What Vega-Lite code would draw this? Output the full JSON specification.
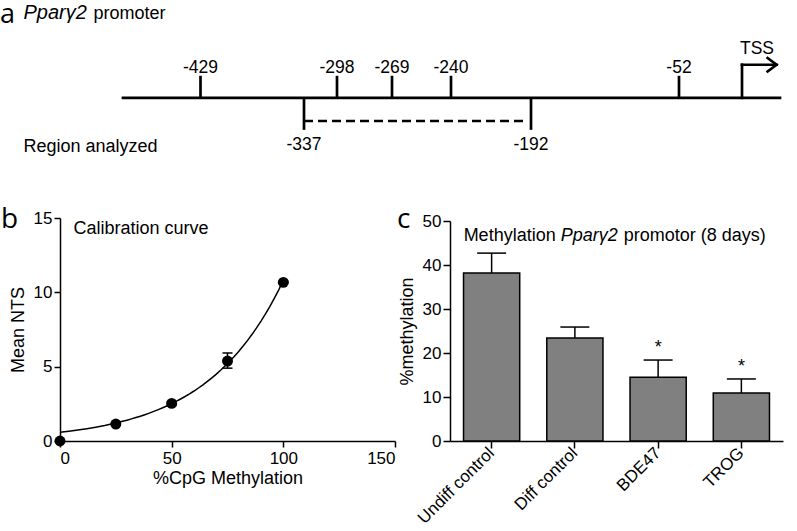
{
  "$schema": "https://vega.github.io/schema/vega-lite/v6.json",
  "padding": 0,
  "background": "white",
  "spacing": 50,
  "config": {
    "view": {"stroke": null},
    "font": "Liberation Sans",
    "axis": {"domainColor": "black", "domainWidth": 1.5, "tickColor": "black", "tickWidth": 1.5, "grid": false, "labelFont": "Liberation Sans", "labelFontSize": 17, "labelColor": "black", "titleFont": "Liberation Sans", "titleFontSize": 18, "titleFontWeight": "normal", "titleColor": "black"},
    "title": {"font": "Open Sans", "fontSize": 28, "fontWeight": "normal", "color": "black", "anchor": "start", "frame": "bounds", "baseline": "alphabetic"},
    "text": {"font": "Liberation Sans", "fontSize": 18, "color": "black"}
  },
  "datasets": {
    "segments": [
      {"x": -480, "x2": 33, "y": 0, "y2": 0},
      {"x": 0, "x2": 0, "y": 0, "y2": 1.5},
      {"x": 0, "x2": 30, "y": 1.5, "y2": 1.5}
    ],
    "sites": [
      {"pos": -429, "base": 0, "level": 1, "label": "-429", "labelLevel": 1.14},
      {"pos": -298, "base": 0, "level": 1, "label": "-298", "labelLevel": 1.14},
      {"pos": -269, "base": 0, "level": 1, "label": "-269", "labelLevel": 1.14},
      {"pos": -240, "base": 0, "level": 1, "label": "-240", "labelLevel": 1.14},
      {"pos": -52, "base": 0, "level": 1, "label": "-52", "labelLevel": 1.14},
      {"pos": -337, "base": 0, "level": -1.45, "label": "-337", "labelLevel": -2.36},
      {"pos": -192, "base": 0, "level": -1.45, "label": "-192", "labelLevel": -2.36}
    ],
    "region": [{"from": -337, "to": -195, "level": -1.05}],
    "calib": [
      {"pct": 0, "nts": 0, "lo": 0, "hi": 0},
      {"pct": 25, "nts": 1.14, "lo": 1.06, "hi": 1.22},
      {"pct": 50, "nts": 2.53, "lo": 2.43, "hi": 2.63},
      {"pct": 75, "nts": 5.38, "lo": 4.9, "hi": 5.92},
      {"pct": 100, "nts": 10.67, "lo": 10.6, "hi": 10.74}
    ],
    "methyl": [
      {"group": "Undiff control", "mean": 38.2, "hi": 42.7, "sig": ""},
      {"group": "Diff control", "mean": 23.4, "hi": 25.9, "sig": ""},
      {"group": "BDE47", "mean": 14.5, "hi": 18.4, "sig": "*"},
      {"group": "TROG", "mean": 10.9, "hi": 14.1, "sig": "*"}
    ]
  },
  "vconcat": [
    {
      "width": 737,
      "height": 150,
      "layer": [
        {
          "data": {"name": "segments"},
          "mark": {"type": "rule", "strokeWidth": 2.7, "color": "black", "strokeCap": "square"},
          "encoding": {
            "x": {"field": "x", "type": "quantitative", "axis": null, "scale": {"domain": [-690, -480, -429, -337, -298, -269, -240, -192, -52, 0, 33], "range": [-60, 63, 140.5, 244, 277, 332, 391, 471, 619, 682, 720], "nice": false, "zero": false}},
            "x2": {"field": "x2"},
            "y": {"field": "y", "type": "quantitative", "axis": null, "scale": {"domain": [-2.5, 4.3], "nice": false, "zero": false}},
            "y2": {"field": "y2"}
          }
        },
        {
          "data": {"name": "sites"},
          "mark": {"type": "rule", "strokeWidth": 2.7, "color": "black"},
          "encoding": {
            "x": {"field": "pos", "type": "quantitative"},
            "y": {"field": "base", "type": "quantitative"},
            "y2": {"field": "level"}
          }
        },
        {
          "data": {"name": "region"},
          "mark": {"type": "rule", "strokeWidth": 2.7, "color": "black", "strokeDash": [9, 5]},
          "encoding": {
            "x": {"field": "from", "type": "quantitative"},
            "x2": {"field": "to"},
            "y": {"field": "level", "type": "quantitative"}
          }
        },
        {
          "data": {"name": "sites"},
          "mark": {"type": "text", "align": "center", "baseline": "alphabetic", "fontSize": 17.5},
          "encoding": {
            "x": {"field": "pos", "type": "quantitative"},
            "y": {"field": "labelLevel", "type": "quantitative"},
            "text": {"field": "label"}
          }
        },
        {
          "data": {"values": [{}]},
          "mark": {"type": "point", "shape": "M-1.33,-1L0,0L-1.33,1", "size": 225, "filled": false, "stroke": "black", "strokeWidth": 2.7, "opacity": 1},
          "encoding": {"x": {"datum": 30, "type": "quantitative"}, "y": {"datum": 1.5, "type": "quantitative"}}
        },
        {
          "data": {"values": [{}]},
          "mark": {"type": "text", "align": "center", "baseline": "alphabetic", "fontSize": 17.5, "text": "TSS"},
          "encoding": {"x": {"datum": 13, "type": "quantitative"}, "y": {"datum": 2.01, "type": "quantitative"}}
        },
        {
          "data": {"values": [{}]},
          "mark": {"type": "text", "align": "left", "baseline": "alphabetic", "fontSize": 18, "text": "Region analyzed"},
          "encoding": {"x": {"datum": -650, "type": "quantitative"}, "y": {"datum": -2.45, "type": "quantitative"}}
        },
        {
          "data": {"values": [{}]},
          "mark": {"type": "text", "align": "left", "baseline": "alphabetic", "fontSize": 20, "fontStyle": "italic", "text": "Pparγ2"},
          "encoding": {"x": {"datum": -650, "type": "quantitative"}, "y": {"datum": 3.59, "type": "quantitative"}}
        },
        {
          "data": {"values": [{}]},
          "mark": {"type": "text", "align": "left", "baseline": "alphabetic", "fontSize": 18, "dx": 70, "text": "promoter"},
          "encoding": {"x": {"datum": -650, "type": "quantitative"}, "y": {"datum": 3.59, "type": "quantitative"}}
        },
        {
          "data": {"values": [{}]},
          "mark": {"type": "text", "align": "left", "baseline": "alphabetic", "font": "Open Sans", "fontSize": 27, "text": "a"},
          "encoding": {"x": {"datum": -690, "type": "quantitative"}, "y": {"datum": 3.4, "type": "quantitative"}}
        }
      ]
    },
    {
      "spacing": 1,
      "hconcat": [
        {
          "width": 335,
          "height": 223,
          "title": {"text": "b", "dx": -8, "offset": -25},
          "data": {"name": "calib"},
          "layer": [
            {
              "transform": [{"filter": "datum.nts > 0"}, {"regression": "nts", "on": "pct", "method": "exp", "extent": [0, 100]}],
              "mark": {"type": "line", "color": "black", "strokeWidth": 1.5},
              "encoding": {
                "x": {"field": "pct", "type": "quantitative", "scale": {"domain": [0, 150], "nice": false}, "axis": {"values": [0, 50, 100, 150], "title": "%CpG Methylation", "tickSize": 6, "labelPadding": 3, "titlePadding": 3}},
                "y": {"field": "nts", "type": "quantitative", "scale": {"domain": [0, 15], "nice": false}, "axis": {"values": [0, 5, 10, 15], "title": "Mean NTS", "tickSize": 6, "labelPadding": 2, "titlePadding": 6}}
              }
            },
            {
              "mark": {"type": "rule", "color": "black", "strokeWidth": 1.5},
              "encoding": {
                "x": {"field": "pct", "type": "quantitative"},
                "y": {"field": "lo", "type": "quantitative"},
                "y2": {"field": "hi"}
              }
            },
            {
              "mark": {"type": "tick", "orient": "horizontal", "color": "black", "thickness": 1.5, "size": 10, "opacity": 1},
              "encoding": {
                "x": {"field": "pct", "type": "quantitative"},
                "y": {"field": "lo", "type": "quantitative"}
              }
            },
            {
              "mark": {"type": "tick", "orient": "horizontal", "color": "black", "thickness": 1.5, "size": 10, "opacity": 1},
              "encoding": {
                "x": {"field": "pct", "type": "quantitative"},
                "y": {"field": "hi", "type": "quantitative"}
              }
            },
            {
              "mark": {"type": "point", "filled": true, "size": 120, "color": "black", "opacity": 1},
              "encoding": {
                "x": {"field": "pct", "type": "quantitative"},
                "y": {"field": "nts", "type": "quantitative"}
              }
            },
            {
              "data": {"values": [{}]},
              "mark": {"type": "text", "align": "left", "baseline": "middle", "fontSize": 18, "text": "Calibration curve"},
              "encoding": {"x": {"datum": 6, "type": "quantitative"}, "y": {"datum": 14.26, "type": "quantitative"}}
            }
          ]
        },
        {
          "width": 333,
          "height": 223,
          "title": {"text": "c", "dx": -1, "offset": -22},
          "data": {"name": "methyl"},
          "layer": [
            {
              "mark": {"type": "bar", "fill": "#808080", "stroke": "black", "strokeWidth": 1.5},
              "encoding": {
                "x": {"field": "group", "type": "nominal", "sort": null, "scale": {"paddingInner": 0.325, "paddingOuter": 0.1625}, "axis": {"title": null, "labelAngle": -45, "labelAlign": "right", "labelBaseline": "middle", "tickSize": 7, "labelPadding": 2}},
                "y": {"field": "mean", "type": "quantitative", "scale": {"domain": [0, 50], "range": [223, 3], "nice": false}, "axis": {"values": [0, 10, 20, 30, 40, 50], "title": "%methylation", "tickSize": 7, "labelPadding": 2, "titlePadding": 6}}
              }
            },
            {
              "mark": {"type": "rule", "color": "black", "strokeWidth": 1.5},
              "encoding": {"x": {"field": "group", "type": "nominal", "sort": null}, "y": {"field": "mean", "type": "quantitative"}, "y2": {"field": "hi"}}
            },
            {
              "mark": {"type": "tick", "color": "black", "thickness": 1.5, "size": 29, "opacity": 1},
              "encoding": {"x": {"field": "group", "type": "nominal", "sort": null}, "y": {"field": "hi", "type": "quantitative"}}
            },
            {
              "mark": {"type": "text", "baseline": "alphabetic", "align": "center", "dy": -7, "fontSize": 18},
              "encoding": {"x": {"field": "group", "type": "nominal", "sort": null}, "y": {"field": "hi", "type": "quantitative"}, "text": {"field": "sig"}}
            },
            {
              "data": {"values": [{}]},
              "mark": {"type": "text", "align": "left", "baseline": "middle", "fontSize": 18, "dx": -28, "text": "Methylation"},
              "encoding": {"x": {"datum": "Undiff control", "type": "nominal"}, "y": {"datum": 46.6, "type": "quantitative"}}
            },
            {
              "data": {"values": [{}]},
              "mark": {"type": "text", "align": "left", "baseline": "middle", "fontSize": 18, "fontStyle": "italic", "dx": 69, "text": "Pparγ2"},
              "encoding": {"x": {"datum": "Undiff control", "type": "nominal"}, "y": {"datum": 46.6, "type": "quantitative"}}
            },
            {
              "data": {"values": [{}]},
              "mark": {"type": "text", "align": "left", "baseline": "middle", "fontSize": 18, "dx": 132, "text": "promotor (8 days)"},
              "encoding": {"x": {"datum": "Undiff control", "type": "nominal"}, "y": {"datum": 46.6, "type": "quantitative"}}
            }
          ]
        }
      ]
    }
  ]
}
